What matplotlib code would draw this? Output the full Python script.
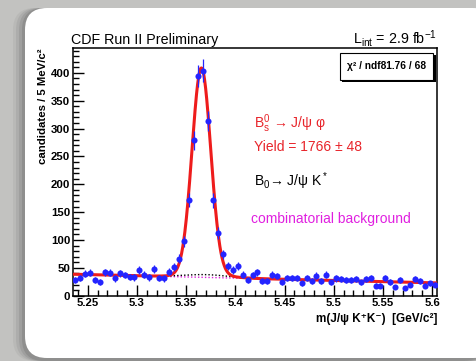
import numpy as np
import matplotlib.pyplot as plt
from matplotlib.patches import FancyBboxPatch, Rectangle
from matplotlib.ticker import MultipleLocator, FuncFormatter

plt.rcParams['font.family'] = ['Liberation Sans', 'DejaVu Sans']
plt.rcParams['mathtext.fontset'] = 'custom'
plt.rcParams['mathtext.rm'] = 'Liberation Sans'
plt.rcParams['mathtext.it'] = 'Liberation Sans:italic'
plt.rcParams['mathtext.bf'] = 'Liberation Sans:bold'
plt.rcParams['mathtext.default'] = 'regular'

# Histogram: 5 MeV bins from 5.235 to 5.605 GeV/c^2
m_lo, m_hi, bin_w = 5.235, 5.605, 0.005
counts = [29, 32, 39, 41, 29, 25, 42, 41, 31, 40,
          37, 34, 33, 46, 38, 33, 48, 32, 31, 43,
          51, 66, 98, 172, 279, 394, 404, 314, 171, 112,
          74, 53, 46, 53, 38, 29, 37, 42, 27, 27,
          38, 35, 25, 32, 32, 32, 22, 32, 27, 36,
          27, 38, 24, 31, 30, 29, 28, 30, 24, 30,
          32, 18, 18, 32, 25, 15, 29, 14, 20, 30,
          27, 18, 22, 20]

# Fit result
bs_yield, bs_yield_err = 1766, 48
bs_mean, bs_sigma = 5.3655, 0.0095
comb_lo, comb_slope = 38.5, -42.0          # linear combinatorial background
refl_amp, refl_mean, refl_sigma = 5.0, 5.37, 0.022   # B0 -> J/psi K* reflection
chi2, ndf = 81.76, 68

counts = np.array(counts, dtype=float)
mass = m_lo + bin_w * (np.arange(len(counts)) + 0.5)

xf = np.linspace(m_lo, m_hi, 1000)
comb = comb_lo + comb_slope * (xf - m_lo)
refl = refl_amp * np.exp(-0.5 * ((xf - refl_mean) / refl_sigma) ** 2)
sig = (bs_yield * bin_w / (np.sqrt(2 * np.pi) * bs_sigma)
       * np.exp(-0.5 * ((xf - bs_mean) / bs_sigma) ** 2))
total = comb + refl + sig

fig = plt.figure(figsize=(4.77, 3.61), dpi=100)
fig.patch.set_facecolor('#c2c2c0')

# slide panel behind the plot
bg = fig.add_axes([0, 0, 1, 1])
bg.set_xlim(0, 477)
bg.set_ylim(361, 0)
bg.axis('off')
for off, a in [(12, 0.10), (9, 0.14), (6, 0.20), (3, 0.30)]:
    bg.add_patch(FancyBboxPatch((25 - off, 8), 470, 353, boxstyle='round,pad=0,rounding_size=22',
                                fc='#6a6a6a', ec='none', alpha=a))
bg.add_patch(FancyBboxPatch((25, 8), 470, 350, boxstyle='round,pad=0,rounding_size=22',
                            fc='white', ec='none'))

ax = fig.add_axes([73 / 477, (361 - 295.7) / 361, 364 / 477, 247.4 / 361])
ax.set_xlim(m_lo, m_hi)
ax.set_ylim(0, 444)

ax.plot(xf, comb, color='#e020e0', lw=1.0, ls=(0, (1, 1.5)), zorder=2)
ax.plot(xf, comb + refl, color='black', lw=1.0, ls=(0, (1, 1.5)), zorder=2)
ax.plot(xf, total, color='#ee1c1c', lw=2.2, zorder=3)
ax.errorbar(mass, counts, yerr=np.sqrt(counts), fmt='o', color='#2424ff',
            ms=4.4, mec='none', elinewidth=0.9, capsize=0, zorder=4)

# ROOT-like axes
ax.xaxis.set_major_locator(MultipleLocator(0.05))
ax.xaxis.set_minor_locator(MultipleLocator(0.01))
ax.yaxis.set_major_locator(MultipleLocator(50))
ax.yaxis.set_minor_locator(MultipleLocator(10))
ax.xaxis.set_major_formatter(FuncFormatter(lambda v, p: '%g' % round(v, 3)))
ax.tick_params(which='both', direction='in', top=False, right=False, width=1.0)
ax.tick_params(which='major', length=8, labelsize=8.2, pad=2)
ax.tick_params(which='minor', length=4)
for lab in ax.get_xticklabels() + ax.get_yticklabels():
    lab.set_fontweight('bold')
for sp in ax.spines.values():
    sp.set_linewidth(1.1)

fig.text(43 / 477, 1 - 48 / 361, 'candidates / 5 MeV/c²', rotation=90,
         ha='center', va='top', fontsize=8.2, fontweight='bold')
fig.text(437 / 477, 1 - 322 / 361, 'm(J/ψ K⁺K⁻)  [GeV/c²]', ha='right',
         va='baseline', fontsize=8.5, fontweight='bold')

fig.text(71 / 477, 1 - 44 / 361, 'CDF Run II Preliminary', fontsize=10.3,
         va='baseline')
fig.text(437 / 477, 1 - 44 / 361, r'L$_{int}$ = 2.9 fb$^{-1}$', fontsize=10.3,
         ha='right', va='baseline')

# chi2 box with drop shadow
bx0, by0, bw, bh = 0.733, 0.872, 0.256, 0.109
ax.add_patch(Rectangle((bx0 + 0.007, by0 - 0.010), bw, bh, transform=ax.transAxes,
                       fc='black', ec='none', zorder=5))
ax.add_patch(Rectangle((bx0, by0), bw, bh, transform=ax.transAxes,
                       fc='white', ec='black', lw=0.8, zorder=6))
ax.text(bx0 + bw / 2, by0 + bh / 2, 'χ² / ndf%g / %d' % (chi2, ndf),
        transform=ax.transAxes, ha='center', va='center', fontsize=7.3,
        fontweight='bold', zorder=7)

red = '#e8242a'
ax.text(0.497, 0.694, r'B$_s^0$ → J/ψ φ', transform=ax.transAxes,
        color=red, fontsize=10, va='center')
ax.text(0.497, 0.601, 'Yield = %d ± %d' % (bs_yield, bs_yield_err),
        transform=ax.transAxes, color=red, fontsize=10, va='center')
ax.text(0.497, 0.463, r'B$_0$→ J/ψ K$^*$', transform=ax.transAxes,
        color='black', fontsize=10, va='center')
ax.text(0.489, 0.310, 'combinatorial background', transform=ax.transAxes,
        color='#e020e0', fontsize=10, va='center')

fig.savefig('out.png', dpi=100, facecolor=fig.get_facecolor())
